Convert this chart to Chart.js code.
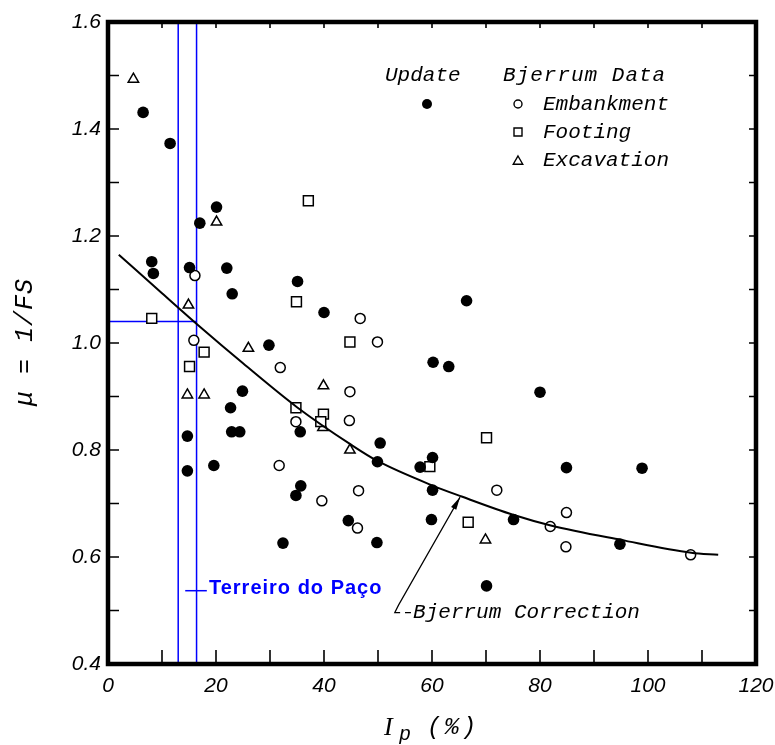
<!DOCTYPE html>
<html>
<head>
<meta charset="utf-8">
<title>Bjerrum correction</title>
<script src="https://cdn.jsdelivr.net/npm/chart.js@4.4.1/dist/chart.umd.min.js"></script>
<style>
  html, body { margin: 0; padding: 0; background: #fff; }
  #wrap { position: relative; width: 775px; height: 745px; }
</style>
</head>
<body>
<div id="wrap"><canvas id="mu-chart"></canvas></div>
<script>
// values (Ip in %, mu = 1/FS)

var updateIp = [6.5, 11.5, 20.1, 17.0, 8.1, 8.4, 15.1, 22.0, 23.0, 35.1, 40.0, 29.8, 24.9, 22.7,
  22.9, 24.4, 14.7, 14.7, 19.6, 35.6, 35.7, 34.8, 32.4, 44.5, 49.8, 50.4, 49.9, 60.2, 63.1,
  66.4, 80.0, 57.8, 60.1, 84.9, 98.9, 60.1, 59.9, 75.1, 94.8, 70.1];
var updateMu = [1.431, 1.373, 1.254, 1.224, 1.152, 1.130, 1.141, 1.140, 1.092, 1.115, 1.057, 0.996, 0.910, 0.879,
  0.834, 0.834, 0.826, 0.761, 0.771, 0.834, 0.733, 0.715, 0.626, 0.668, 0.627, 0.813, 0.778, 0.964, 0.956,
  1.079, 0.908, 0.768, 0.786, 0.767, 0.766, 0.725, 0.670, 0.670, 0.624, 0.546];

var embankIp = [16.1, 46.7, 15.9, 31.9, 31.7, 34.8, 39.6, 44.8, 44.7, 49.9, 46.2, 46.4, 72.0, 84.9, 81.9, 84.8, 107.9];
var embankMu = [1.126, 1.046, 1.005, 0.954, 0.771, 0.853, 0.705, 0.909, 0.855, 1.002, 0.654, 0.724, 0.725, 0.683, 0.657, 0.619, 0.604];

var footingIp = [37.1, 34.9, 8.1, 17.8, 15.1, 44.8, 34.8, 39.9, 39.4, 70.1, 59.6, 66.7];
var footingMu = [1.266, 1.077, 1.046, 0.983, 0.956, 1.002, 0.879, 0.867, 0.853, 0.823, 0.769, 0.665];

var excavIp = [4.7, 20.1, 14.9, 26.0, 14.7, 17.8, 39.9, 39.8, 44.8, 69.9];
var excavMu = [1.493, 1.226, 1.071, 0.990, 0.903, 0.903, 0.920, 0.842, 0.800, 0.632];

// Bjerrum correction curve
var curveIp = [2, 10, 17.4, 25, 35, 45, 50, 60, 65.5, 75, 82, 95, 108, 113];
var curveMu = [1.165, 1.093, 1.027, 0.962, 0.880, 0.810, 0.779, 0.734, 0.713, 0.679, 0.659, 0.632, 0.608, 0.604];

// Terreiro do Paço range
var terreiroIp = [13.0, 16.4];
var terreiroMu = 1.04;

var xTickLabels = ['0', '20', '40', '60', '80', '100', '120'];
var yTickLabels = ['0.4', '0.6', '0.8', '1.0', '1.2', '1.4', '1.6'];

var LETTER = '"Liberation Mono", "DejaVu Sans Mono", monospace';
var BLUE = '#0000ff';

function pairs(xs, ys) {
  return xs.map(function (x, i) { return { x: x, y: ys[i] }; });
}

function marker(ctx, style, x, y, r) {
  ctx.beginPath();
  if (style === 'circle') {
    ctx.arc(x, y, r, 0, Math.PI * 2);
  } else if (style === 'rect') {
    ctx.rect(x - r, y - r, 2 * r, 2 * r);
  } else {
    ctx.moveTo(x, y - r);
    ctx.lineTo(x + r * 0.95, y + r * 0.65);
    ctx.lineTo(x - r * 0.95, y + r * 0.65);
    ctx.closePath();
  }
}

// no extra room for overhanging tick labels, the frame sets the plot box
function noPad(s) {
  s.paddingLeft = 0; s.paddingRight = 0; s.paddingTop = 0; s.paddingBottom = 0;
}

var framePlugin = {
  id: 'frame',
  afterDraw: function (chart) {
    var ctx = chart.ctx;
    var a = chart.chartArea;
    var xs = chart.scales.x, ys = chart.scales.y;
    ctx.save();
    ctx.strokeStyle = '#000';
    ctx.lineWidth = 1.6;
    xs.ticks.forEach(function (t) {
      var px = xs.getPixelForValue(t.value);
      if (px <= a.left + 2 || px >= a.right - 2) return;
      ctx.beginPath();
      ctx.moveTo(px, a.bottom); ctx.lineTo(px, a.bottom - 14);
      ctx.moveTo(px, a.top); ctx.lineTo(px, a.top + 6);
      ctx.stroke();
    });
    ys.ticks.forEach(function (t) {
      var py = ys.getPixelForValue(t.value);
      if (py <= a.top + 2 || py >= a.bottom - 2) return;
      ctx.beginPath();
      ctx.moveTo(a.left, py); ctx.lineTo(a.left + 11, py);
      ctx.moveTo(a.right, py); ctx.lineTo(a.right - 7, py);
      ctx.stroke();
    });
    ctx.lineWidth = 4.5;
    ctx.strokeRect(a.left, a.top, a.right - a.left, a.bottom - a.top);

    // axis titles
    ctx.fillStyle = '#000';
    ctx.save();
    ctx.translate(25, (a.top + a.bottom) / 2 - 1);
    ctx.rotate(-Math.PI / 2);
    ctx.font = 'italic 25px ' + LETTER;
    ctx.letterSpacing = '1px';
    ctx.textAlign = 'center';
    ctx.textBaseline = 'middle';
    ctx.fillText('\u03bc = 1/FS', 0, 0);
    ctx.restore();

    var cx = (a.left + a.right) / 2;
    ctx.textBaseline = 'alphabetic';
    ctx.textAlign = 'left';
    ctx.font = 'italic 26px "Liberation Serif", serif';
    ctx.fillText('I', cx - 48, 735);
    ctx.font = 'italic 20px ' + LETTER;
    ctx.fillText('p', cx - 33, 740);
    ctx.font = 'italic 24px ' + LETTER;
    ctx.letterSpacing = '3px';
    ctx.fillText('(%)', cx - 5, 734);
    ctx.letterSpacing = '0px';

    // legend
    var lx = a.left, ly = a.top;
    ctx.font = 'italic 21px ' + LETTER;
    ctx.textBaseline = 'middle';
    ctx.fillText('Update', lx + 277, ly + 53);
    ctx.letterSpacing = '1px';
    ctx.fillText('Bjerrum Data', lx + 395, ly + 53);
    ctx.letterSpacing = '0px';
    ctx.fillText('Embankment', lx + 435, ly + 82);
    ctx.fillText('Footing', lx + 435, ly + 110);
    ctx.fillText('Excavation', lx + 435, ly + 138);
    ctx.lineWidth = 1.4;
    marker(ctx, 'circle', lx + 319, ly + 82, 5);
    ctx.fill();
    marker(ctx, 'circle', lx + 410, ly + 82, 4);
    ctx.stroke();
    marker(ctx, 'rect', lx + 410, ly + 110, 4);
    ctx.stroke();
    marker(ctx, 'tri', lx + 410, ly + 139, 5);
    ctx.stroke();
    ctx.restore();
  }
};

var notesPlugin = {
  id: 'notes',
  beforeDatasetsDraw: function (chart) {
    var ctx = chart.ctx;
    var a = chart.chartArea;
    var xs = chart.scales.x, ys = chart.scales.y;
    ctx.save();
    ctx.strokeStyle = BLUE;
    ctx.lineWidth = 1.5;
    terreiroIp.forEach(function (v) {
      var px = xs.getPixelForValue(v);
      ctx.beginPath();
      ctx.moveTo(px, a.top); ctx.lineTo(px, a.bottom);
      ctx.stroke();
    });
    var hy = ys.getPixelForValue(terreiroMu);
    ctx.beginPath();
    ctx.moveTo(a.left, hy); ctx.lineTo(xs.getPixelForValue(terreiroIp[1]), hy);
    ctx.stroke();

    var ty = ys.getPixelForValue(0.537);
    ctx.beginPath();
    ctx.moveTo(xs.getPixelForValue(14.3), ty); ctx.lineTo(xs.getPixelForValue(18.3), ty);
    ctx.stroke();
    ctx.fillStyle = BLUE;
    ctx.font = 'bold 20px "Liberation Sans", Arial, sans-serif';
    ctx.letterSpacing = '1px';
    ctx.textBaseline = 'middle';
    ctx.fillText('Terreiro do Pa\u00e7o', xs.getPixelForValue(18.7), ty - 2);
    ctx.letterSpacing = '0px';

    // Bjerrum Correction label + arrow
    ctx.strokeStyle = '#000';
    ctx.fillStyle = '#000';
    ctx.lineWidth = 1.2;
    var tx = xs.getPixelForValue(53.8), tyy = ys.getPixelForValue(0.510);
    var hx = xs.getPixelForValue(65.2), hyy = ys.getPixelForValue(0.712);
    var by = ys.getPixelForValue(0.496);
    ctx.beginPath();
    ctx.moveTo(hx, hyy);
    ctx.lineTo(tx, tyy);
    ctx.lineTo(xs.getPixelForValue(53.1), by);
    ctx.lineTo(xs.getPixelForValue(54.1), by);
    ctx.moveTo(xs.getPixelForValue(55.0), by);
    ctx.lineTo(xs.getPixelForValue(56.1), by);
    ctx.stroke();
    var ang = Math.atan2(hyy - tyy, hx - tx);
    ctx.beginPath();
    ctx.moveTo(hx, hyy);
    ctx.lineTo(hx - 13 * Math.cos(ang) + 3 * Math.sin(ang), hyy - 13 * Math.sin(ang) - 3 * Math.cos(ang));
    ctx.lineTo(hx - 13 * Math.cos(ang) - 3 * Math.sin(ang), hyy - 13 * Math.sin(ang) + 3 * Math.cos(ang));
    ctx.closePath();
    ctx.fill();
    ctx.font = 'italic 21px ' + LETTER;
    ctx.textBaseline = 'middle';
    ctx.fillText('Bjerrum Correction', xs.getPixelForValue(56.5), by);
    ctx.restore();
  }
};

function initChart() {
  var ctx = document.getElementById('mu-chart');
  return new Chart(ctx, {
    type: 'scatter',
    data: {
      datasets: [{
        label: 'Bjerrum Correction',
        type: 'line',
        data: pairs(curveIp, curveMu),
        borderColor: '#000',
        borderWidth: 2,
        pointRadius: 0,
        cubicInterpolationMode: 'monotone',
        fill: false
      }, {
        label: 'Update',
        data: pairs(updateIp, updateMu),
        pointStyle: 'circle',
        pointRadius: 5.8,
        backgroundColor: '#000',
        borderColor: '#000',
        borderWidth: 0
      }, {
        label: 'Embankment',
        data: pairs(embankIp, embankMu),
        pointStyle: 'circle',
        pointRadius: 5,
        backgroundColor: '#fff',
        borderColor: '#000',
        borderWidth: 1.5
      }, {
        label: 'Footing',
        data: pairs(footingIp, footingMu),
        pointStyle: 'rect',
        pointRadius: 7,
        backgroundColor: '#fff',
        borderColor: '#000',
        borderWidth: 1.5
      }, {
        label: 'Excavation',
        data: pairs(excavIp, excavMu),
        pointStyle: 'triangle',
        pointRadius: 6,
        backgroundColor: '#fff',
        borderColor: '#000',
        borderWidth: 1.5
      }]
    },
    options: {
      responsive: true,
      maintainAspectRatio: false,
      animation: false,
      layout: { padding: { left: 0, right: 19, top: 22, bottom: 0 } },
      plugins: { legend: { display: false }, tooltip: { enabled: false } },
      scales: {
        x: {
          type: 'linear',
          min: 0, max: 120,
          grid: { display: false, drawTicks: false },
          border: { display: false },
          afterFit: function (s) { s.height = 81; noPad(s); },
          ticks: {
            stepSize: 10,
            autoSkip: false,
            maxRotation: 0,
            padding: 10,
            color: '#000',
            font: { family: '"Liberation Sans", Arial, sans-serif', size: 21, style: 'italic' },
            callback: function (v) {
              var s = String(Math.round(v));
              return xTickLabels.indexOf(s) >= 0 ? s : '';
            }
          }
        },
        y: {
          type: 'linear',
          min: 0.4, max: 1.6,
          grid: { display: false, drawTicks: false },
          border: { display: false },
          afterFit: function (s) { s.width = 108; noPad(s); },
          ticks: {
            stepSize: 0.1,
            autoSkip: false,
            padding: 7,
            color: '#000',
            font: { family: '"Liberation Sans", Arial, sans-serif', size: 21, style: 'italic' },
            callback: function (v) {
              var s = Number(v).toFixed(1);
              return yTickLabels.indexOf(s) >= 0 ? s : '';
            }
          }
        }
      }
    },
    plugins: [notesPlugin, framePlugin]
  });
}

initChart();
</script>
</body>
</html>
